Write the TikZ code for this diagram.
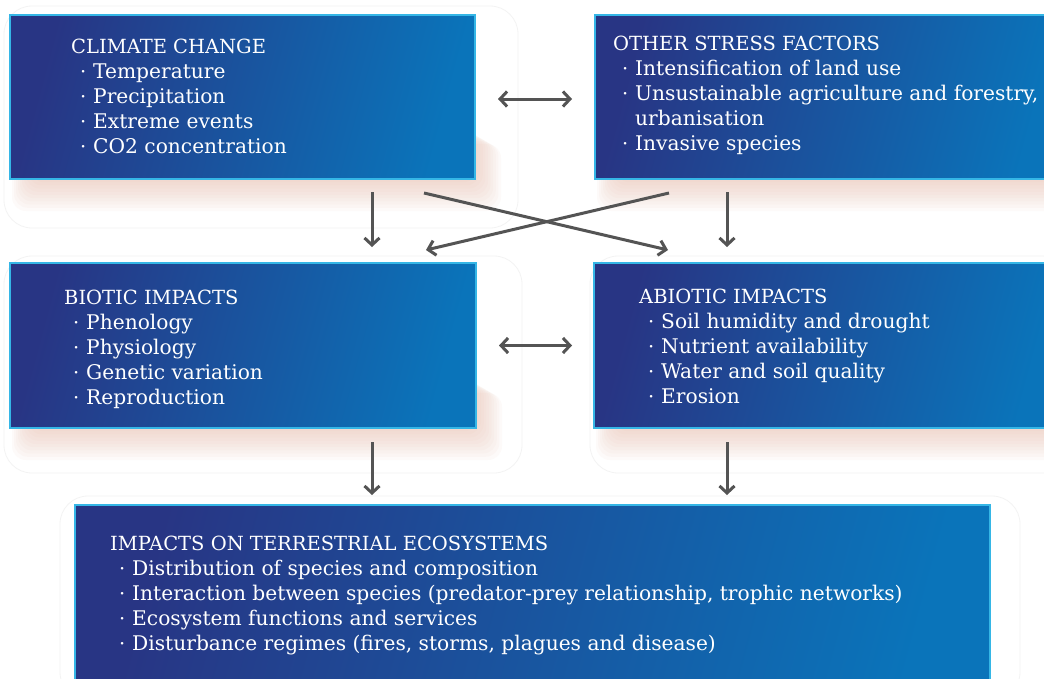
\documentclass[tikz,border=0pt]{standalone}
\usepackage{fontspec}
\setmainfont{DejaVu Serif}
\usetikzlibrary{arrows.meta,calc}
\definecolor{bxL}{HTML}{283584}
\definecolor{bxM}{HTML}{1D55A1}
\definecolor{bxR}{HTML}{0A74BA}
\definecolor{bxB}{HTML}{35B6E6}
\definecolor{arrc}{HTML}{545454}
\definecolor{shc}{HTML}{E6B5A0}
\definecolor{ghost}{HTML}{F3F3F3}
\newcommand\itm[1]{\hspace*{9pt}\makebox[13pt][l]{·}{\fontsize{20.2}{25}\selectfont#1}}
\newcommand\softshadow[4]{%
  \foreach \i in {1,...,10}{%
    \fill[shc, opacity=0.06, rounded corners=14pt]
      ({#1+22-\i*2},{#4-50+\i*1.5}) rectangle ({#3+\i*2.6},{#4+\i*3.2});
  }%
}
\begin{document}
\begin{tikzpicture}[x=1pt,y=-1pt,
  box/.style={anchor=north west, inner sep=0pt, outer sep=0pt,
    draw=bxB, line width=2pt,
    left color=bxL, middle color=bxM, right color=bxR, shading angle=75},
  txt/.style={anchor=base west, inner sep=0pt, text=white,
    font=\fontsize{19.5}{25}\selectfont},
  arr/.style={draw=arrc, line width=3pt,
    -{Straight Barb[length=7pt,width=15pt]}},
  darr/.style={draw=arrc, line width=3pt,
    {Straight Barb[length=7pt,width=15pt]}-{Straight Barb[length=7pt,width=15pt]}},
  ghostline/.style={draw=ghost, line width=0.8pt, rounded corners=28pt}]
\useasboundingbox (0,0) rectangle (1044,678);
\clip (0,0) rectangle (1044,678);
\fill[white] (0,0) rectangle (1044,678);

% faint background outlines
\draw[ghostline] (4,6) rectangle (518,228);
\draw[ghostline] (4,256) rectangle (522,473);
\draw[ghostline] (590,256) rectangle (1070,473);
\draw[ghostline] (60,496) rectangle (1020,700);

% shadows
\softshadow{10}{15}{475}{179}
\softshadow{595}{15}{1060}{179}
\softshadow{10}{263}{476}{428}
\softshadow{594}{263}{1060}{428}

% boxes
\node[box, minimum width=465pt, minimum height=164pt] (cc) at (10,15) {};
\node[box, minimum width=470pt, minimum height=164pt] (osf) at (595,15) {};
\node[box, minimum width=466pt, minimum height=165pt] (bi) at (10,263) {};
\node[box, minimum width=470pt, minimum height=165pt] (ai) at (594,263) {};
\node[box, minimum width=915pt, minimum height=200pt] (te) at (75,505) {};

% texts
\node[txt] (cct) at (71,53) {\begin{tabular}[t]{@{}l@{}}
CLIMATE CHANGE\\
\itm{Temperature}\\
\itm{Precipitation}\\
\itm{Extreme events}\\
\itm{CO2 concentration}
\end{tabular}};
\node[txt] (osft) at (613,50) {\begin{tabular}[t]{@{}l@{}}
OTHER STRESS FACTORS\\
\itm{Intensification of land use}\\
\itm{Unsustainable agriculture and forestry,}\\
\hspace*{22pt}{\fontsize{20.2}{25}\selectfont urbanisation}\\
\itm{Invasive species}
\end{tabular}};
\node[txt] (bit) at (64,304) {\begin{tabular}[t]{@{}l@{}}
BIOTIC IMPACTS\\
\itm{Phenology}\\
\itm{Physiology}\\
\itm{Genetic variation}\\
\itm{Reproduction}
\end{tabular}};
\node[txt] (ait) at (639,303) {\begin{tabular}[t]{@{}l@{}}
ABIOTIC IMPACTS\\
\itm{Soil humidity and drought}\\
\itm{Nutrient availability}\\
\itm{Water and soil quality}\\
\itm{Erosion}
\end{tabular}};
\node[txt] (tet) at (110,550) {\begin{tabular}[t]{@{}l@{}}
IMPACTS ON TERRESTRIAL ECOSYSTEMS\\
\itm{Distribution of species and composition}\\
\itm{Interaction between species (predator-prey relationship, trophic networks)}\\
\itm{Ecosystem functions and services}\\
\itm{Disturbance regimes (fires, storms, plagues and disease)}
\end{tabular}};

% arrow positions
\coordinate (xl) at (372,0);
\coordinate (xr) at (727,0);
\coordinate (s1) at (424,193);
\coordinate (e1) at (668,250);
\coordinate (s2) at (669,193);
\coordinate (e2) at (426,250);

% arrows
\draw[arr, shorten <=13pt, shorten >=16pt] (xl |- cc.south) -- (xl |- bi.north);
\draw[arr, shorten <=13pt, shorten >=16pt] (xr |- osf.south) -- (xr |- ai.north);
\draw[arr] (s1) -- (e1);
\draw[arr] (s2) -- (e2);
\draw[darr, shorten <=23pt, shorten >=23pt] ([yshift=-2pt]cc.east) -- ([yshift=-2pt]cc.east -| osf.west);
\draw[darr, shorten <=23pt, shorten >=22pt] (bi.east) -- (bi.east -| ai.west);
\draw[arr, shorten <=14pt, shorten >=10pt] (xl |- bi.south) -- (xl |- te.north);
\draw[arr, shorten <=14pt, shorten >=10pt] (xr |- ai.south) -- (xr |- te.north);
\end{tikzpicture}
\end{document}
